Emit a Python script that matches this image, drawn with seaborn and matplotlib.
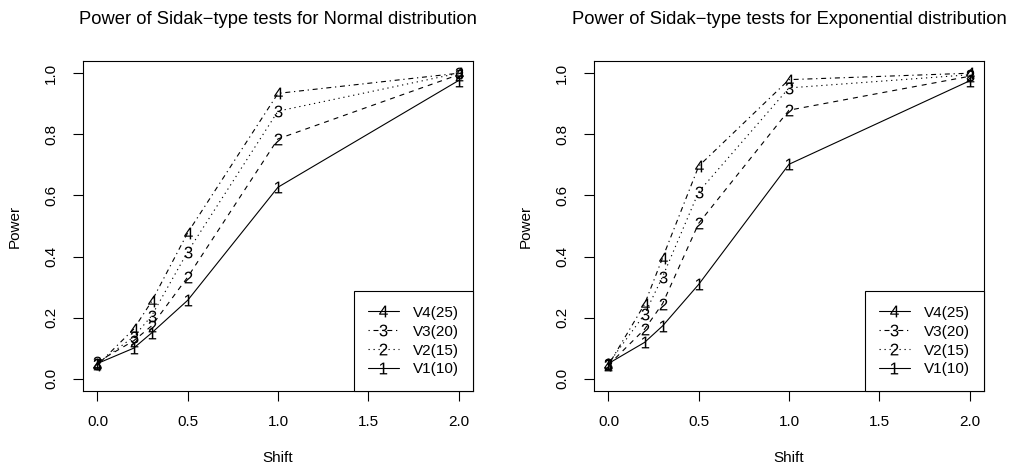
''' Power curves of Sidak-type tests, R base-graphics look '''

import seaborn as sns
from matplotlib import pyplot as plt
from matplotlib.lines import Line2D

''' Data read off the reference '''
shift = [0.0, 0.2, 0.3, 0.5, 1.0, 2.0]

normal_v1 = [0.050, 0.100, 0.150, 0.257, 0.627, 0.976]
normal_v2 = [0.055, 0.124, 0.173, 0.333, 0.785, 0.995]
normal_v3 = [0.050, 0.137, 0.206, 0.416, 0.876, 1.000]
normal_v4 = [0.045, 0.162, 0.253, 0.478, 0.934, 1.000]

exp_v1 = [0.050, 0.119, 0.173, 0.309, 0.702, 0.975]
exp_v2 = [0.045, 0.162, 0.246, 0.509, 0.879, 0.990]
exp_v3 = [0.050, 0.211, 0.334, 0.612, 0.952, 0.995]
exp_v4 = [0.045, 0.244, 0.396, 0.696, 0.979, 1.000]

series_ids = ["1", "2", "3", "4"]
legend_ids = ["4", "3", "2", "1"]
legend_labels = ["V4(25)", "V3(20)", "V2(15)", "V1(10)"]
titles = ["Power of Sidak\u2212type tests for Normal distribution",
          "Power of Sidak\u2212type tests for Exponential distribution"]

''' Style '''
sns.set_style("ticks")
plt.rcParams['font.family'] = ['Liberation Sans', 'DejaVu Sans']
plt.rcParams['mathtext.fontset'] = 'custom'
plt.rcParams['mathtext.rm'] = 'Liberation Sans'
plt.rcParams['mathtext.it'] = 'Liberation Sans'
plt.rcParams['lines.scale_dashes'] = False
plt.rcParams['text.color'] = 'black'
plt.rcParams['axes.labelcolor'] = 'black'
plt.rcParams['xtick.color'] = 'black'
plt.rcParams['ytick.color'] = 'black'

solid = '-'
dashed = (0, (3.6, 3.6))
dotted = (0, (0.9, 2.7))
dotdash = (0, (0.9, 2.7, 3.6, 2.7))
line_styles = [solid, dashed, dotted, dotdash]
legend_styles = [solid, dotdash, dotted, solid]

fig = plt.figure(figsize = (10.12, 4.66), dpi = 100)
ax1 = fig.add_axes([83 / 1012, 1 - 391 / 466, 390 / 1012, 330 / 466])
ax2 = fig.add_axes([594 / 1012, 1 - 391 / 466, 390 / 1012, 330 / 466])

panels = [(ax1, [normal_v1, normal_v2, normal_v3, normal_v4]),
          (ax2, [exp_v1, exp_v2, exp_v3, exp_v4])]

for i, (ax, data) in enumerate(panels):
       for vals, sid, ls in zip(data, series_ids, line_styles):
              sns.lineplot(x = shift, y = vals, ax = ax, color = 'black', lw = 0.8,
                           linestyle = ls, marker = f'${sid}$', markersize = 8.5,
                           markeredgewidth = 0)

       ax.set_xlim(-0.08, 2.08)
       ax.set_ylim(-0.04, 1.04)
       ax.set_xticks([0, 0.5, 1.0, 1.5, 2.0])
       ax.set_xticklabels(['0.0', '0.5', '1.0', '1.5', '2.0'])
       ax.set_yticks([0, 0.2, 0.4, 0.6, 0.8, 1.0])
       ax.set_yticklabels(['0.0', '0.2', '0.4', '0.6', '0.8', '1.0'])
       ax.tick_params(axis = 'both', direction = 'out', length = 7, width = 0.8,
                      labelsize = 11, pad = 10, color = 'black', labelcolor = 'black')
       ax.tick_params(axis = 'y', labelrotation = 90, pad = 11)
       for lab in ax.get_yticklabels():
              lab.set_va('center')
       for sp in ax.spines.values():
              sp.set_visible(True)
              sp.set_color('black')
              sp.set_linewidth(0.8)

       ax.set_xlabel('Shift', fontsize = 11, labelpad = 16)
       ax.set_ylabel('Power', fontsize = 11, labelpad = 16)
       ax.set_title(titles[i], fontsize = 13.2, pad = 27, color = 'black')

       handles = [Line2D([0], [0], color = 'black', lw = 0.8, linestyle = ls,
                         marker = f'${d}$', markersize = 8.5, markeredgewidth = 0)
                  for d, ls in zip(legend_ids, legend_styles)]
       leg = ax.legend(handles, legend_labels, loc = 'lower right', bbox_to_anchor = (1, 0),
                       borderaxespad = 0, fontsize = 11, frameon = True, fancybox = False,
                       handlelength = 2.0, handletextpad = 0.9, labelspacing = 0.32,
                       borderpad = 0.95)
       leg.get_frame().set_edgecolor('black')
       leg.get_frame().set_linewidth(0.8)
       leg.get_frame().set_alpha(1)
       for t in leg.get_texts():
              t.set_color('black')

fig.savefig('out.png', dpi = 100)
